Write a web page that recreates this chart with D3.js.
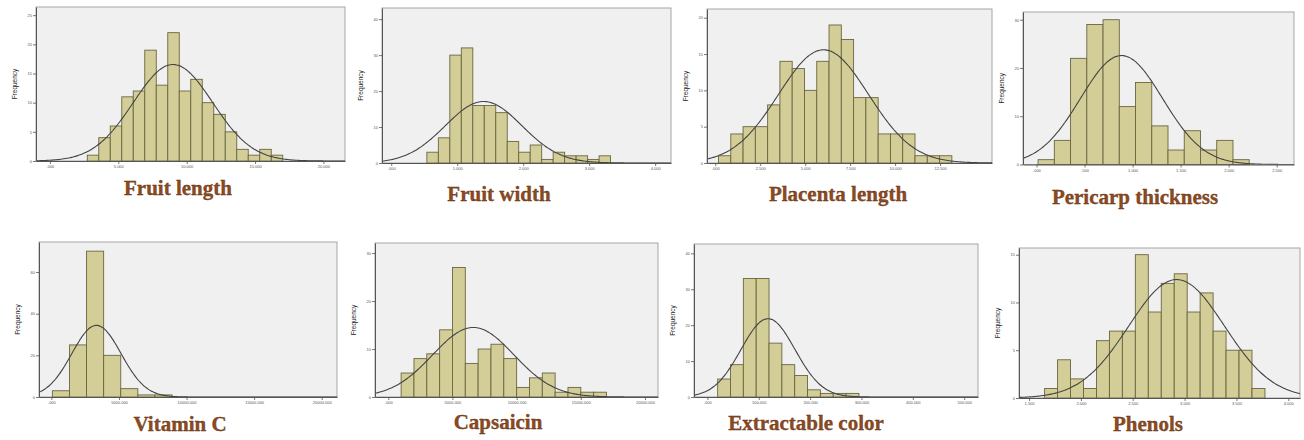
<!DOCTYPE html>
<html>
<head>
<meta charset="utf-8">
<script src="https://cdn.jsdelivr.net/npm/d3@7"></script>
<style>
  body { margin: 0; background: #fff; }
  svg { display: block; }
</style>
</head>
<body>
<svg id="chart" width="1304" height="440"></svg>
<script>
// ---- data ----
const titles = ['Fruit length', 'Fruit width', 'Placenta length', 'Pericarp thickness',
                'Vitamin C', 'Capsaicin', 'Extractable color', 'Phenols'];

// frequencies per bin, left to right
const fruitLength      = [1, 4, 6, 11, 12, 19, 13, 22, 12, 14, 10, 8, 5, 0, 2, 1, 2, 0, 0, 1];
const fruitWidth       = [3, 7, 30, 32, 16, 16, 14, 6, 3, 5, 1, 3, 2, 2, 0, 0, 1, 0, 2];
const placentaLength   = [1, 4, 5, 5, 8, 14, 13, 10, 14, 19, 17, 9, 9, 4, 4, 4, 1, 0, 0, 1, 1];
const pericarpThick    = [1, 5, 22, 29, 30, 12, 17, 8, 3, 7, 3, 5, 0, 0, 1];
const vitaminC         = [3, 25, 70, 20, 4, 1, 0, 0, 0, 0, 0, 0, 0, 0, 0, 1];
const capsaicin        = [5, 8, 9, 14, 27, 7, 10, 11, 8, 2, 4, 5, 1, 2, 1, 1];
const extractableColor = [5, 9, 33, 33, 15, 9, 6, 2, 0, 1, 0, 1, 0, 0, 0, 0, 1];
const phenols          = [1, 4, 0, 2, 1, 6, 7, 7, 15, 9, 12, 13, 9, 11, 7, 5, 5, 1];

const counts = [fruitLength, fruitWidth, placentaLength, pericarpThick,
                vitaminC, capsaicin, extractableColor, phenols];

// first bin edge and bin width (data units)
const binStart = [2.73, 0.54, 0.18, 0.017, 70, 1000, 20, 1.65];
const binWidth = [0.841, 0.174, 0.683, 0.169, 1265, 1000, 25, 0.125];

// fitted normal curve
const curveMean = [9.0, 1.40, 6.02, 0.885, 3333, 6623, 118, 2.923];
const curveSd   = [2.9, 0.58, 2.50, 0.427, 1819, 3164, 52.6, 0.4625];

// axis ranges
const xDomains = [[-1.02, 21.58], [-0.14, 4.24], [-0.46, 15.39], [-0.14, 2.68],
                  [-919, 21133], [-1036, 21015], [-26.1, 526.9], [1.403, 4.113]];
const yMax = [26.4, 43.1, 21.2, 31.6, 74.4, 32.1, 42.6, 15.7];

// tick values and labels
const xTickValues = [
  [0, 5, 10, 15, 20], [0, 1, 2, 3, 4], [0, 2.5, 5, 7.5, 10, 12.5], [0, 0.5, 1, 1.5, 2, 2.5],
  [0, 5000, 10000, 15000, 20000], [0, 5000, 10000, 15000, 20000],
  [0, 100, 200, 300, 400, 500], [1.5, 2, 2.5, 3, 3.5, 4]
];
const xTickLabels = [
  ['.000', '5.000', '10.000', '15.000', '20.000'],
  ['.000', '1.000', '2.000', '3.000', '4.000'],
  ['.000', '2.500', '5.000', '7.500', '10.000', '12.500'],
  ['.000', '.500', '1.000', '1.500', '2.000', '2.500'],
  ['.000', '5000.000', '10000.000', '15000.000', '20000.000'],
  ['.000', '5000.000', '10000.000', '15000.000', '20000.000'],
  ['.000', '100.000', '200.000', '300.000', '400.000', '500.000'],
  ['1.500', '2.000', '2.500', '3.000', '3.500', '4.000']
];
const yTickValues = [
  [0, 5, 10, 15, 20, 25], [0, 10, 20, 30, 40], [0, 5, 10, 15, 20], [0, 10, 20, 30],
  [0, 20, 40, 60], [0, 10, 20, 30], [0, 10, 20, 30, 40], [0, 5, 10, 15]
];

// ---- layout (pixels) ----
// plot frame: left, top, right, bottom
const frames = [
  [36, 7, 345, 161], [382, 8, 671, 163], [707, 9, 992, 163], [1023, 12, 1294, 164.5],
  [39, 242, 337, 397], [375, 243, 658, 397], [694, 244, 978, 397], [1019, 248, 1300, 398]
];
const titlePos = [[178, 195], [499, 201], [838, 201], [1135, 204],
                  [180, 431], [498, 429], [806, 430], [1148, 431]];

const svg = d3.select('#chart');

titles.forEach((title, i) => {
  const [x0, y0, x1, y1] = frames[i];
  const data = counts[i];
  const n = d3.sum(data);

  const x = d3.scaleLinear().domain(xDomains[i]).range([x0, x1]);
  const y = d3.scaleLinear().domain([0, yMax[i]]).range([y1, y0]);

  const g = svg.append('g');

  // plot background + frame
  g.append('rect')
    .attr('x', x0).attr('y', y0)
    .attr('width', x1 - x0).attr('height', y1 - y0)
    .attr('fill', '#f0f0f0')
    .attr('stroke', '#a6a6a6')
    .attr('stroke-width', 1);

  const clipId = 'clip' + i;
  g.append('clipPath').attr('id', clipId)
    .append('rect')
    .attr('x', x0).attr('y', y0)
    .attr('width', x1 - x0).attr('height', y1 - y0);

  // bars
  g.append('g')
    .selectAll('rect')
    .data(data)
    .join('rect')
    .filter(d => d > 0)
    .attr('x', (d, k) => x(binStart[i] + k * binWidth[i]))
    .attr('width', (d, k) => x(binStart[i] + (k + 1) * binWidth[i]) - x(binStart[i] + k * binWidth[i]))
    .attr('y', d => y(d))
    .attr('height', d => y(0) - y(d))
    .attr('fill', '#d3ce97')
    .attr('stroke', '#6a6540')
    .attr('stroke-width', 0.9);

  // normal curve
  const amp = n * binWidth[i] / (curveSd[i] * Math.sqrt(2 * Math.PI));
  const xs = d3.range(0, 201).map(k => xDomains[i][0] + (xDomains[i][1] - xDomains[i][0]) * k / 200);
  const line = d3.line()
    .x(v => x(v))
    .y(v => y(amp * Math.exp(-0.5 * Math.pow((v - curveMean[i]) / curveSd[i], 2))))
    .curve(d3.curveBasis);
  g.append('path')
    .attr('clip-path', `url(#${clipId})`)
    .attr('d', line(xs))
    .attr('fill', 'none')
    .attr('stroke', '#444')
    .attr('stroke-width', 1.1);

  // axes
  const xAxis = d3.axisBottom(x)
    .tickValues(xTickValues[i])
    .tickFormat((d, k) => xTickLabels[i][k])
    .tickSize(3)
    .tickSizeOuter(0);
  const xg = g.append('g')
    .attr('transform', `translate(0,${y1})`)
    .call(xAxis);

  const yAxis = d3.axisLeft(y)
    .tickValues(yTickValues[i])
    .tickFormat(d3.format('d'))
    .tickSize(3)
    .tickSizeOuter(0);
  const yg = g.append('g')
    .attr('transform', `translate(${x0},0)`)
    .call(yAxis);

  [xg, yg].forEach(a => {
    a.select('.domain').attr('stroke', '#555').attr('stroke-width', 1);
    a.selectAll('.tick line').attr('stroke', '#555').attr('stroke-width', 0.8);
    a.selectAll('.tick text')
      .attr('fill', '#555')
      .style('font-family', 'Liberation Sans, Arial, sans-serif')
      .style('font-size', '4px');
  });
  xg.selectAll('.tick text').attr('y', 4.5);
  yg.selectAll('.tick text').attr('x', -4);

  // y axis title
  g.append('text')
    .attr('transform', `translate(${x0 - 19},${(y0 + y1) / 2}) rotate(-90)`)
    .attr('text-anchor', 'middle')
    .style('font-family', 'Liberation Sans, Arial, sans-serif')
    .style('font-size', '6.5px')
    .attr('fill', '#222')
    .text('Frequency');

  // panel caption
  svg.append('text')
    .attr('x', titlePos[i][0])
    .attr('y', titlePos[i][1])
    .attr('text-anchor', 'middle')
    .style('font-family', 'Liberation Serif, Times New Roman, serif')
    .style('font-weight', 'bold')
    .style('font-size', '21px')
    .attr('fill', '#8b4a1f')
    .attr('stroke', '#5e2f10')
    .attr('stroke-width', 0.3)
    .text(title);
});
</script>
</body>
</html>
